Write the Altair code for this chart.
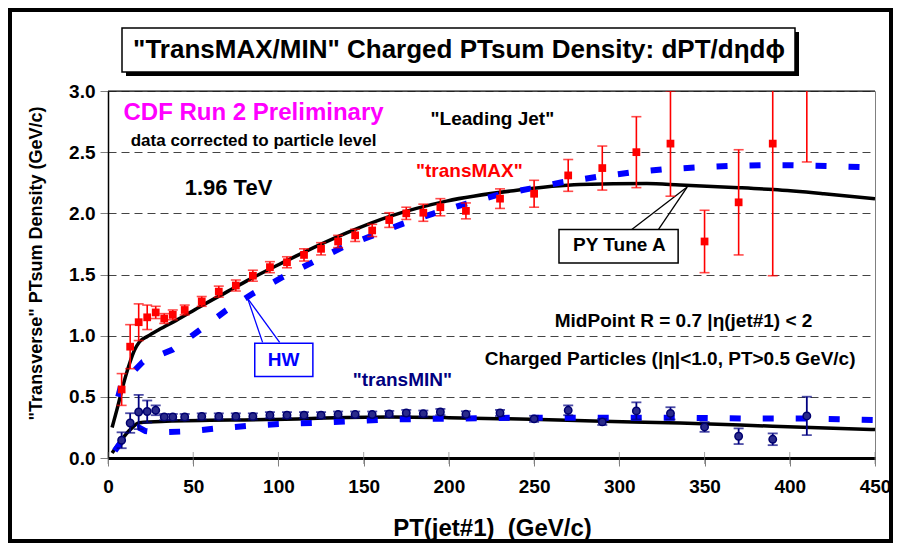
import altair as alt
import pandas as pd

# ---------------- data ----------------
# CDF data "transMAX"
max_pt = [8, 13, 18, 23, 28, 33, 38, 45, 55, 65, 75, 85, 95, 105, 115, 125, 135, 145, 155,
          165, 175, 185, 195, 210, 230, 250, 270, 290, 310, 330, 350, 370, 390, 410]
max_val = [0.56, 0.91, 1.11, 1.15, 1.19, 1.14, 1.17, 1.21, 1.28, 1.36, 1.41, 1.49, 1.56, 1.60,
           1.66, 1.71, 1.77, 1.82, 1.86, 1.945, 2.00, 2.005, 2.05, 2.02, 2.12, 2.16, 2.31, 2.37,
           2.50, 2.57, 1.77, 2.09, 2.57, 3.45]
max_err = [0.13, 0.18, 0.15, 0.10, 0.05, 0.04, 0.04, 0.04, 0.04, 0.045, 0.045, 0.045, 0.045, 0.045,
           0.05, 0.05, 0.05, 0.05, 0.05, 0.06, 0.05, 0.07, 0.07, 0.065, 0.08, 0.11, 0.13, 0.18,
           0.29, 0.43, 0.255, 0.43, 1.08, 1.03]

# CDF data "transMIN"
min_pt = max_pt
min_val = [0.145, 0.286, 0.376, 0.38, 0.39, 0.335, 0.335, 0.335, 0.34, 0.34, 0.34, 0.34, 0.35, 0.35,
           0.35, 0.35, 0.355, 0.355, 0.355, 0.36, 0.368, 0.363, 0.376, 0.357, 0.368, 0.32, 0.39,
           0.295, 0.385, 0.365, 0.254, 0.178, 0.153, 0.344]
min_err = [0.065, 0.08, 0.14, 0.09, 0.04, 0.025, 0.025, 0.025, 0.025, 0.025, 0.025, 0.025, 0.025,
           0.025, 0.025, 0.025, 0.025, 0.025, 0.025, 0.025, 0.025, 0.025, 0.025, 0.025, 0.025,
           0.025, 0.04, 0.025, 0.07, 0.05, 0.04, 0.064, 0.048, 0.157]

# PYTHIA Tune A curves
py_max_pt = [2.4, 5.7, 8.6, 12.6, 15.5, 18.4, 23.3, 30, 40, 53.7, 70, 83.1, 100, 112.4, 140, 165.3,
             198.6, 237.8, 276.9, 316.1, 335.6, 370.3, 390.3, 420, 450]
py_max_val = [0.25, 0.42, 0.58, 0.77, 0.88, 0.948, 0.995, 1.05, 1.125, 1.235, 1.36, 1.46, 1.58,
              1.665, 1.84, 1.975, 2.10, 2.185, 2.235, 2.243, 2.232, 2.21, 2.194, 2.16, 2.12]
py_min_pt = [2.4, 7, 12.6, 18.4, 34.1, 92.9, 165.3, 200, 247.6, 290, 335.6, 390, 450]
py_min_val = [0.041, 0.13, 0.226, 0.289, 0.300, 0.314, 0.335, 0.33, 0.316, 0.30, 0.286, 0.26, 0.232]

# HERWIG curves
hw_max_pt = [6, 8, 20.4, 38, 53.7, 69.4, 85, 102.6, 120.3, 137.9, 155.5, 173.1, 190.8, 210.4, 228,
             247.6, 267.1, 286.7, 306.3, 324.9, 344.5, 364.1, 383.7, 402.2, 421.9, 450]
hw_max_val = [0.50, 0.608, 0.785, 0.886, 1.044, 1.207, 1.344, 1.48, 1.602, 1.725, 1.82, 1.916,
              1.998, 2.08, 2.148, 2.202, 2.256, 2.297, 2.333, 2.358, 2.374, 2.387, 2.393, 2.393,
              2.387, 2.375]
hw_min_pt = [4, 7.7, 14.5, 18, 22, 28.3, 46.8, 66.4, 86, 105.6, 124.2, 143.8, 162.4, 201, 239.6,
             297, 335.6, 374.7, 412.8, 450]
hw_min_val = [0.06, 0.131, 0.24, 0.25, 0.22, 0.208, 0.218, 0.245, 0.267, 0.281, 0.289, 0.302,
              0.314, 0.322, 0.33, 0.33, 0.33, 0.322, 0.322, 0.31]

# text annotations (data units)
ann_text = ["CDF Run 2 Preliminary", "data corrected to particle level", "1.96 TeV",
            '"Leading Jet"', '"transMAX"', "MidPoint R = 0.7 |\u03b7(jet#1) < 2",
            "Charged Particles (|\u03b7|<1.0, PT>0.5 GeV/c)", '"transMIN"',
            "PY Tune A", "HW"]
ann_x = [85.4, 85.4, 70.7, 225.5, 212, 337.7, 329.8, 172.7, 300, 103]
ann_y = [2.822, 2.59, 2.21, 2.775, 2.345, 1.118, 0.807, 0.635, 1.739, 0.80]
ann_color = ["#FF00FF", "black", "black", "black", "#FF0000", "black", "black", "#000080",
             "black", "#0000FF"]
ann_size = [24, 17, 22, 19, 19, 19, 19, 19, 19, 19]

# label boxes and callouts (data units)
box_x = [264.6, 86.1]
box_x2 = [334.5, 120.2]
box_y = [1.867, 0.938]
box_y2 = [1.594, 0.667]
box_col = ["black", "#0000FF"]
call_x = [307.3, 322.9, 90.7, 100.7]
call_y = [1.867, 1.867, 0.945, 0.945]
call_x2 = [339.8, 339.8, 81.9, 81.9]
call_y2 = [2.215, 2.215, 1.305, 1.305]
call_col = ["black", "black", "#0000FF", "#0000FF"]

x_ticks = [0, 50, 100, 150, 200, 250, 300, 350, 400, 450]
y_ticks = [0.0, 0.5, 1.0, 1.5, 2.0, 2.5, 3.0]

TITLE = '"TransMAX/MIN" Charged PTsum Density: dPT/d\u03b7d\u03d5'
FONT = "Liberation Sans"

# ---------------- chart ----------------
W, H = 767, 367

xs = alt.Scale(domain=[0, 450], nice=False, zero=False)
ys = alt.Scale(domain=[0, 3], nice=False, zero=False)
xaxis = alt.Axis(values=x_ticks, title="PT(jet#1)\u00a0 (GeV/c)", labelFont=FONT,
                 labelFontSize=19, labelFontWeight="bold", labelColor="black", labelPadding=11,
                 tickSize=8, tickColor="#808080", domainColor="black", domainWidth=3, grid=False,
                 titleFont=FONT, titleFontSize=24, titleFontWeight="bold", titleColor="black",
                 titleX=384, titleY=70, titleAlign="center", titleBaseline="middle",
                 labelFlush=False)
yaxis = alt.Axis(values=y_ticks, format=".1f", title='"Transverse" PTsum Density (GeV/c)',
                 labelFont=FONT, labelFontSize=19, labelFontWeight="bold", labelColor="black",
                 labelPadding=5, tickSize=8, tickColor="#808080", domainColor="black",
                 domainWidth=1.5, grid=True, gridDash=[8, 5], gridColor="#444444", gridWidth=1,
                 titleFont=FONT, titleFontSize=18, titleFontWeight="bold", titleColor="black",
                 titleX=-72, titleY=172, titleAngle=270, titleAlign="center",
                 titleBaseline="middle", labelFlush=False)


def X(f):
    return alt.X(f, type="quantitative", scale=xs, axis=xaxis)


def Y(f):
    return alt.Y(f, type="quantitative", scale=ys, axis=yaxis)


def curve(pt, val):
    return pd.DataFrame({"x": pt, "y": val})


def points(pt, val, err):
    return pd.DataFrame({"x": pt, "y": val,
                         "lo": [v - e for v, e in zip(val, err)],
                         "hi": [v + e for v, e in zip(val, err)]})


dmax = points(max_pt, max_val, max_err)
dmin = points(min_pt, min_val, min_err)

py_lines = [alt.Chart(curve(p, v)).mark_line(color="black", strokeWidth=3.5, clip=True,
                                             interpolate="monotone")
            .encode(x=X("x"), y=Y("y")) for p, v in [(py_max_pt, py_max_val), (py_min_pt, py_min_val)]]
hw_lines = [alt.Chart(curve(p, v)).mark_line(color="#0000FF", strokeWidth=6, strokeDash=[11, 22],
                                             strokeCap="butt", clip=True)
            .encode(x=X("x"), y=Y("y")) for p, v in [(hw_max_pt, hw_max_val), (hw_min_pt, hw_min_val)]]

boxes = alt.Chart(pd.DataFrame({"x": box_x, "x2": box_x2, "y": box_y, "y2": box_y2, "c": box_col})) \
    .mark_rect(fill="white", strokeWidth=1.5).encode(
        x=X("x"), x2="x2", y=Y("y"), y2="y2", stroke=alt.Color("c:N", scale=None))
callouts = alt.Chart(pd.DataFrame({"x": call_x, "x2": call_x2, "y": call_y, "y2": call_y2, "c": call_col})) \
    .mark_rule(strokeWidth=1.3).encode(
        x=X("x"), x2="x2", y=Y("y"), y2="y2", color=alt.Color("c:N", scale=None))

texts = alt.Chart(pd.DataFrame({"t": ann_text, "x": ann_x, "y": ann_y, "c": ann_color, "s": ann_size})) \
    .mark_text(font=FONT, fontWeight="bold", align="center", baseline="middle").encode(
        x=X("x"), y=Y("y"), text="t:N", color=alt.Color("c:N", scale=None),
        size=alt.Size("s:Q", scale=None))

# inner half of the x tick marks (the reference ticks cross the axis line)
inner_ticks = alt.Chart(pd.DataFrame({"x": x_ticks})).mark_tick(
    color="#808080", orient="vertical", size=12, thickness=1).encode(
    x=X("x"), y=alt.value(H))


def errbars(df, color, width):
    rule = alt.Chart(df).mark_rule(color=color, strokeWidth=width, clip=True).encode(
        x=X("x"), y=Y("lo"), y2="hi")
    cap_lo = alt.Chart(df).mark_tick(color=color, orient="horizontal", size=10, thickness=width,
                                     clip=True).encode(x=X("x"), y=Y("lo"))
    cap_hi = alt.Chart(df).mark_tick(color=color, orient="horizontal", size=10, thickness=width,
                                     clip=True).encode(x=X("x"), y=Y("hi"))
    return [rule, cap_lo, cap_hi]


red_pts = alt.Chart(dmax).mark_square(color="#FF0000", size=60, opacity=1, clip=True).encode(
    x=X("x"), y=Y("y"))
navy_pts = alt.Chart(dmin).mark_point(shape="circle", filled=True, fill="#2A2A8A", stroke="#000070",
                                      strokeWidth=1.5, size=55, opacity=1, clip=True).encode(
    x=X("x"), y=Y("y"))

one = pd.DataFrame({"a": [0]})
top_rule = alt.Chart(one).mark_rule(color="black", strokeWidth=1.2).encode(
    x=alt.value(0), x2=alt.value(W), y=alt.value(0))
frame = alt.Chart(one).mark_rect(fill=None, stroke="black", strokeWidth=4).encode(
    x=alt.value(-98), x2=alt.value(783), y=alt.value(-81), y2=alt.value(450))
title_shadow = alt.Chart(one).mark_rect(fill="black").encode(
    x=alt.value(18), x2=alt.value(691), y=alt.value(-59), y2=alt.value(-15))
title_box = alt.Chart(one).mark_rect(fill="white", stroke="black", strokeWidth=1.5).encode(
    x=alt.value(14), x2=alt.value(687), y=alt.value(-63), y2=alt.value(-19))
title_text = alt.Chart(one).mark_text(text=TITLE, font=FONT, fontWeight="bold", fontSize=26,
                                      align="center", baseline="middle", color="black").encode(
    x=alt.value(351), y=alt.value(-41))

layers = ([frame, title_shadow, title_box, title_text, top_rule, inner_ticks] + py_lines +
          hw_lines + [callouts, boxes, texts] + errbars(dmax, "#FF0000", 1.6) +
          errbars(dmin, "#000080", 1.8) + [red_pts, navy_pts])

chart = alt.layer(*layers).properties(
    width=W, height=H,
    autosize=alt.AutoSizeParams(type="none"),
    padding={"left": 100, "top": 83, "right": 18, "bottom": 86},
    background="white",
).configure_view(stroke="#808080", strokeWidth=1)

chart.save("out.html", embed_options={"renderer": "svg", "actions": False})
